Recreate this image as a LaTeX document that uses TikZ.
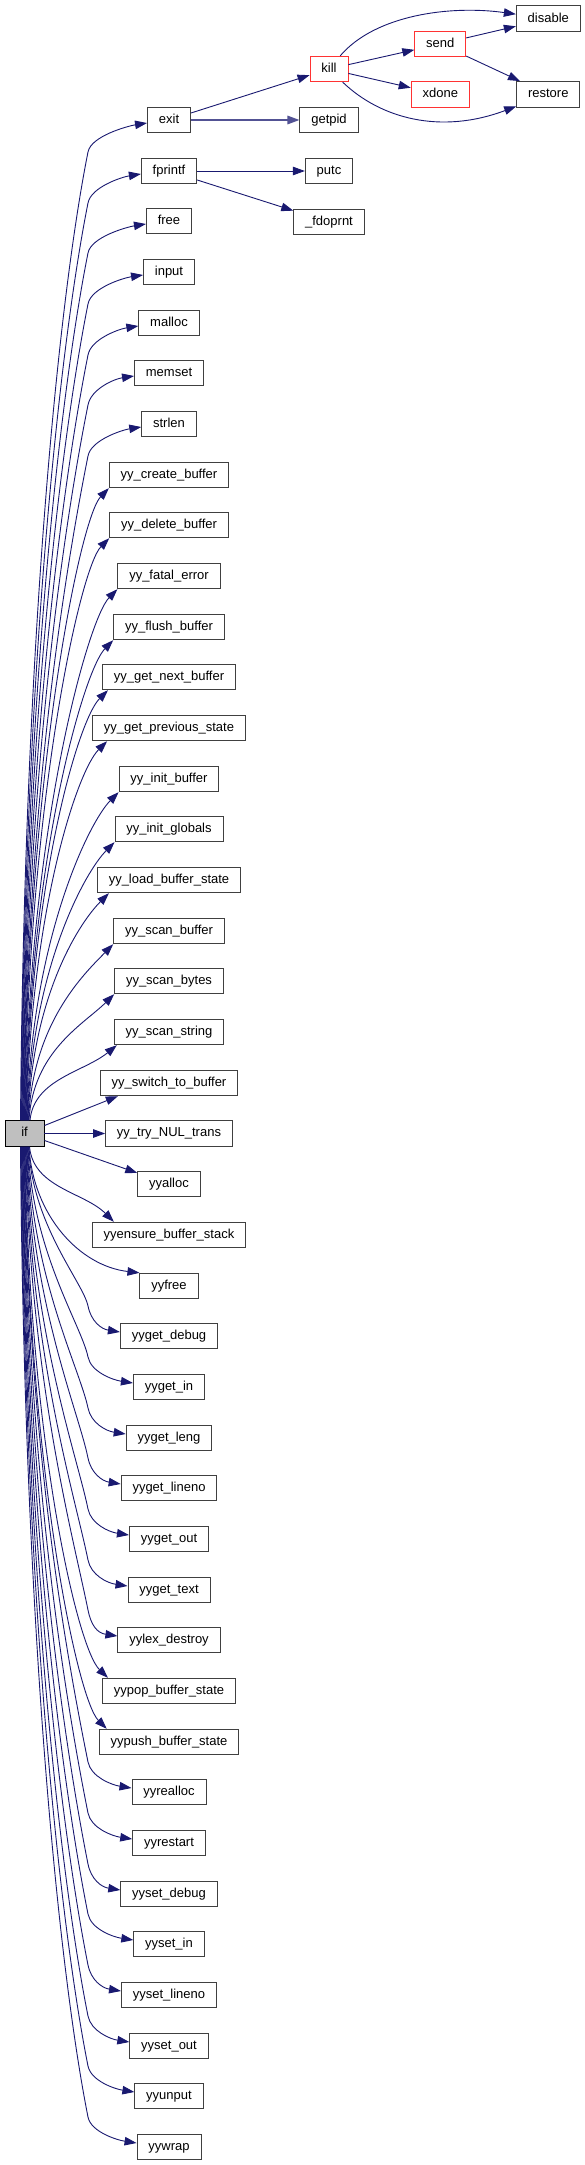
\documentclass[tikz,border=0pt]{standalone}
\usepackage{fontspec}
\setmainfont{Liberation Sans}
\usepackage{tikz}
\definecolor{mynavy}{RGB}{25,25,112}
\definecolor{mygray}{RGB}{64,64,64}
\definecolor{myred}{RGB}{255,51,51}
\usetikzlibrary{arrows.meta}
\tikzstyle{call} = [draw=mynavy, line width=0.9pt, -{Triangle[length=12pt,width=8.5pt]}]
\tikzstyle{fn} = [draw=mygray, fill=white, line width=0.9pt, minimum height=25.5pt, inner xsep=11.4pt, inner ysep=0pt, text height=9.5pt, text depth=2.8pt, font=\fontsize{13}{15}\selectfont]

\begin{document}
\begin{tikzpicture}[x=1pt, y=-1pt, redfn/.style={fn, draw=myred}, root/.style={fn, draw=black, fill=gray!50, minimum width=39pt}]
	\useasboundingbox (0,0) rectangle (585,2165);
	%Aufrufer
	\node[root] (if) at (24.5,1133.5) {if};
	%erste Spalte
	\node[fn] (exit) at (169,120) {exit};
	\node[fn] (fprintf) at (169,171) {fprintf};
	\node[fn] (free) at (169,221) {free};
	\node[fn] (input) at (169,272) {input};
	\node[fn] (malloc) at (169,323) {malloc};
	\node[fn] (memset) at (169,373) {memset};
	\node[fn] (strlen) at (169,424) {strlen};
	\node[fn] (yycreate) at (169,475) {yy\_create\_buffer};
	\node[fn] (yydelete) at (169,525) {yy\_delete\_buffer};
	\node[fn] (yyfatal) at (169,576) {yy\_fatal\_error};
	\node[fn] (yyflush) at (169,627) {yy\_flush\_buffer};
	\node[fn] (yynext) at (169,677) {yy\_get\_next\_buffer};
	\node[fn] (yyprev) at (169,728) {yy\_get\_previous\_state};
	\node[fn] (yyinitbuf) at (169,779) {yy\_init\_buffer};
	\node[fn] (yyglobals) at (169,829) {yy\_init\_globals};
	\node[fn] (yyload) at (169,880) {yy\_load\_buffer\_state};
	\node[fn] (yyscanbuf) at (169,931) {yy\_scan\_buffer};
	\node[fn] (yyscanbytes) at (169,981) {yy\_scan\_bytes};
	\node[fn] (yyscanstr) at (169,1032) {yy\_scan\_string};
	\node[fn] (yyswitch) at (169,1083) {yy\_switch\_to\_buffer};
	\node[fn] (yytrynul) at (169,1133.5) {yy\_try\_NUL\_trans};
	\node[fn] (yyalloc) at (169,1184) {yyalloc};
	\node[fn] (yyensure) at (169,1235) {yyensure\_buffer\_stack};
	\node[fn] (yyfree) at (169,1286) {yyfree};
	\node[fn] (getdebug) at (169,1336) {yyget\_debug};
	\node[fn] (getin) at (169,1387) {yyget\_in};
	\node[fn] (getleng) at (169,1438) {yyget\_leng};
	\node[fn] (getlineno) at (169,1488) {yyget\_lineno};
	\node[fn] (getout) at (169,1539) {yyget\_out};
	\node[fn] (gettext) at (169,1590) {yyget\_text};
	\node[fn] (lexdestroy) at (169,1640) {yylex\_destroy};
	\node[fn] (popstate) at (169,1691) {yypop\_buffer\_state};
	\node[fn] (pushstate) at (169,1742) {yypush\_buffer\_state};
	\node[fn] (yyrealloc) at (169,1792) {yyrealloc};
	\node[fn] (yyrestart) at (169,1843) {yyrestart};
	\node[fn] (setdebug) at (169,1894) {yyset\_debug};
	\node[fn] (setin) at (169,1944) {yyset\_in};
	\node[fn] (setlineno) at (169,1995) {yyset\_lineno};
	\node[fn] (setout) at (169,2046) {yyset\_out};
	\node[fn] (yyunput) at (169,2096) {yyunput};
	\node[fn] (yywrap) at (169,2147) {yywrap};
	%weitere Spalten
	\node[redfn] (kill) at (329,69) {kill};
	\node[fn] (getpid) at (329,120) {getpid};
	\node[fn] (putc) at (329,171) {putc};
	\node[fn] (fdoprnt) at (329,222) {\_fdoprnt};
	\node[redfn] (send) at (440.3,44) {send};
	\node[redfn] (xdone) at (440.3,94.5) {xdone};
	\node[fn] (disable) at (548.3,18.7) {disable};
	\node[fn] (restore) at (548.3,94.3) {restore};
	%Aufrufe nach oben
	\draw[call] ([xshift=-4pt]if.north) .. controls (24.5,637) and (59,297) .. (88,152) .. controls (91,136) and (128,126) .. ([yshift=-3pt]exit.west);
	\draw[call] ([xshift=-3.5pt]if.north) .. controls (25,662) and (60.5,341) .. (88,203) .. controls (91,187) and (122,177) .. ([yshift=-3pt]fprintf.west);
	\draw[call] ([xshift=-3pt]if.north) .. controls (25.5,687) and (62,383) .. (88,253) .. controls (91,237) and (127,227) .. ([yshift=-3pt]free.west);
	\draw[call] ([xshift=-2.5pt]if.north) .. controls (26,713) and (63.5,427) .. (88,304) .. controls (91,288) and (123,278) .. ([yshift=-3pt]input.west);
	\draw[call] ([xshift=-2pt]if.north) .. controls (26.5,738) and (65,470) .. (88,355) .. controls (91,339) and (119,329) .. ([yshift=-3pt]malloc.west);
	\draw[call] ([xshift=-1.5pt]if.north) .. controls (27,763) and (66.5,512) .. (88,405) .. controls (91,389) and (114,379) .. ([yshift=-3pt]memset.west);
	\draw[call] ([xshift=-1pt]if.north) .. controls (27.5,789) and (68,556) .. (88,456) .. controls (91,440) and (122,430) .. ([yshift=-3pt]strlen.west);
	\draw[call] ([xshift=-0.5pt]if.north) .. controls (28,773) and (80,518) .. (yycreate.south west);
	\draw[call] (if.north) .. controls (28.5,801) and (80,568) .. (yydelete.south west);
	\draw[call] ([xshift=0.5pt]if.north) .. controls (29,828) and (88,619) .. (yyfatal.south west);
	\draw[call] ([xshift=1pt]if.north) .. controls (29.5,856) and (84,670) .. (yyflush.south west);
	\draw[call] ([xshift=1.5pt]if.north) .. controls (30,884) and (78,720) .. ([xshift=6pt]yynext.south west);
	\draw[call] ([xshift=2pt]if.north) .. controls (30.5,912) and (77,771) .. ([xshift=15pt]yyprev.south west);
	\draw[call] ([xshift=2.5pt]if.north) .. controls (31,940) and (89,822) .. (yyinitbuf.south west);
	\draw[call] ([xshift=3pt]if.north) .. controls (31.5,968) and (85,872) .. (yyglobals.south west);
	\draw[call] ([xshift=3.5pt]if.north) .. controls (32,996) and (79,923) .. ([xshift=12pt]yyload.south west);
	\draw[call] ([xshift=4pt]if.north) .. controls (32.5,1023) and (84,974) .. (yyscanbuf.south west);
	\draw[call] ([xshift=4.5pt]if.north) .. controls (33,1051) and (84,1024) .. (yyscanbytes.south west);
	\draw[call] ([xshift=5.5pt]if.north) .. controls (34,1079) and (84,1072) .. ([xshift=3pt]yyscanstr.south west);
	\draw[call] (if) -- ([xshift=18pt]yyswitch.south west);
	\draw[call] (if) -- (yytrynul);
	%Aufrufe nach unten
	\draw[call] (if) -- (yyalloc);
	\draw[call] ([xshift=5pt]if.south) .. controls (33.5,1188) and (84,1192) .. ([xshift=22pt]yyensure.north west);
	\draw[call] ([xshift=4.5pt]if.south) .. controls (33,1216) and (80,1266) .. (yyfree.north west);
	\draw[call] ([xshift=4pt]if.south) .. controls (32.5,1226) and (83,1282) .. (88,1306) .. controls (91,1321) and (101,1329) .. ([yshift=4pt]getdebug.west);
	\draw[call] ([xshift=3.5pt]if.south) .. controls (32,1252) and (81.5,1325) .. (88,1357) .. controls (91,1372) and (113,1380) .. ([yshift=4pt]getin.west);
	\draw[call] ([xshift=3pt]if.south) .. controls (31.5,1277) and (80,1369) .. (88,1408) .. controls (91,1423) and (106,1431) .. ([yshift=4pt]getleng.west);
	\draw[call] ([xshift=2.5pt]if.south) .. controls (31,1302) and (78.5,1411) .. (88,1458) .. controls (91,1473) and (102,1481) .. ([yshift=4pt]getlineno.west);
	\draw[call] ([xshift=2pt]if.south) .. controls (30.5,1328) and (77,1455) .. (88,1509) .. controls (91,1524) and (109,1532) .. ([yshift=4pt]getout.west);
	\draw[call] ([xshift=1.5pt]if.south) .. controls (30,1353) and (75.5,1498) .. (88,1560) .. controls (91,1575) and (107,1583) .. ([yshift=4pt]gettext.west);
	\draw[call] ([xshift=1pt]if.south) .. controls (29.5,1378) and (74,1540) .. (88,1610) .. controls (91,1625) and (97,1633) .. ([yshift=4pt]lexdestroy.west);
	\draw[call] ([xshift=0.5pt]if.south) .. controls (29,1439) and (77,1648) .. ([xshift=6pt]popstate.north west);
	\draw[call] (if.south) .. controls (28.5,1467) and (77,1699) .. ([xshift=8pt]pushstate.north west);
	\draw[call] ([xshift=-0.5pt]if.south) .. controls (28,1454) and (69.5,1670) .. (88,1762) .. controls (91,1777) and (112,1785) .. ([yshift=4pt]yyrealloc.west);
	\draw[call] ([xshift=-1pt]if.south) .. controls (27.5,1480) and (68,1713) .. (88,1813) .. controls (91,1828) and (112,1836) .. ([yshift=4pt]yyrestart.west);
	\draw[call] ([xshift=-1.5pt]if.south) .. controls (27,1505) and (66.5,1756) .. (88,1864) .. controls (91,1879) and (101,1887) .. ([yshift=4pt]setdebug.west);
	\draw[call] ([xshift=-2pt]if.south) .. controls (26.5,1530) and (65,1799) .. (88,1914) .. controls (91,1929) and (113,1937) .. ([yshift=4pt]setin.west);
	\draw[call] ([xshift=-2.5pt]if.south) .. controls (26,1556) and (63.5,1842) .. (88,1965) .. controls (91,1980) and (102,1988) .. ([yshift=4pt]setlineno.west);
	\draw[call] ([xshift=-3pt]if.south) .. controls (25.5,1581) and (62,1886) .. (88,2016) .. controls (91,2031) and (110,2039) .. ([yshift=4pt]setout.west);
	\draw[call] ([xshift=-3.5pt]if.south) .. controls (25,1606) and (60.5,1928) .. (88,2066) .. controls (91,2081) and (115,2089) .. ([yshift=4pt]yyunput.west);
	\draw[call] ([xshift=-4pt]if.south) .. controls (24.5,1632) and (59,1971) .. (88,2117) .. controls (91,2132) and (117,2140) .. ([yshift=4pt]yywrap.west);
	%rechts oben
	\draw[call] (exit) -- (kill);
	\draw[call, line width=1.5pt, draw=mynavy!75] (exit) -- (getpid);
	\draw[call] (fprintf) -- (putc);
	\draw[call] (fprintf) -- (fdoprnt);
	\draw[call] (kill) .. controls (375,15) and (450,5) .. (disable);
	\draw[call] (kill) -- (send);
	\draw[call] (kill) -- (xdone);
	\draw[call] (kill) .. controls (380,118) and (440,135) .. (restore);
	\draw[call] (send) -- (disable);
	\draw[call] (send) -- (restore);
\end{tikzpicture}
\end{document}
